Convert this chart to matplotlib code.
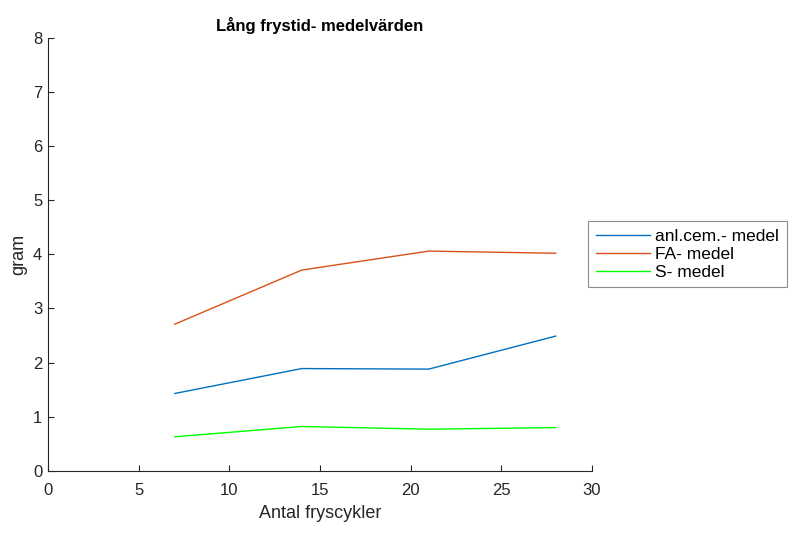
import matplotlib
matplotlib.use("Agg")
import matplotlib.pyplot as plt

plt.rcParams['font.family'] = ['Liberation Sans', 'DejaVu Sans']

cycles = [7, 14, 21, 28]
anl_cem = [1.43, 1.89, 1.88, 2.49]
fa = [2.71, 3.71, 4.06, 4.02]
s_medel = [0.63, 0.82, 0.77, 0.80]

fig = plt.figure(figsize=(8.11, 5.4), dpi=100)
ax = fig.add_axes([0.059, 0.128, 0.671, 0.802])

ax.plot(cycles, anl_cem, color="#0072BD", lw=1.0, label="anl.cem.- medel")
ax.plot(cycles, fa, color="#D95319", lw=1.0, label="FA- medel")
ax.plot(cycles, s_medel, color="#00FF00", lw=1.0, label="S- medel")

ax.set_xlim(0, 30)
ax.set_ylim(0, 8)
ax.set_xticks(range(0, 31, 5))
ax.set_yticks(range(0, 9))
for side in ["top", "right"]:
    ax.spines[side].set_visible(False)
for side in ["left", "bottom"]:
    ax.spines[side].set_color("#262626")
    ax.spines[side].set_linewidth(0.8)
ax.tick_params(direction="in", length=4, width=0.8, colors="#262626",
               labelsize=12)
ax.tick_params(axis="x", pad=9)
ax.tick_params(axis="y", pad=4)

ax.set_xlabel("Antal fryscykler", fontsize=13, color="#262626", labelpad=5)
ax.set_ylabel("gram", fontsize=13, color="#262626", labelpad=4)
ax.set_title("Lång frystid- medelvärden", fontsize=12, fontweight="bold",
             color="black", pad=5)

leg = ax.legend(loc="center left", bbox_to_anchor=(0.993, 0.5), fontsize=12.5,
                fancybox=False, edgecolor="#8c8c8c", framealpha=1,
                handlelength=3.1, handletextpad=0.3, borderpad=0.45,
                labelspacing=0.15, borderaxespad=0)
leg.get_frame().set_linewidth(0.8)

fig.savefig("out.png", dpi=100)
